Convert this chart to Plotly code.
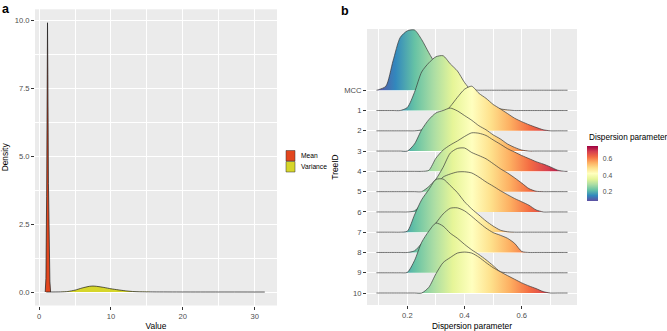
import plotly.graph_objects as go

W, H = 667, 331

# ---------------- Panel a data ----------------
mean_x = [0.85, 0.95, 1.05, 1.12, 1.17, 1.22, 1.30, 1.40, 1.50, 1.60]
mean_y = [0.0, 0.5, 3.5, 8.0, 9.9, 8.0, 4.0, 1.5, 0.4, 0.0]

var_x = [1.0, 3.0, 4.0, 5.0, 6.0, 7.0, 7.5, 8.0, 9.0, 10.0, 11.0, 12.0, 13.0, 14.0, 16.0, 20.0, 25.0, 31.4]
var_y = [0.0, 0.005, 0.02, 0.07, 0.15, 0.21, 0.22, 0.21, 0.17, 0.12, 0.08, 0.045, 0.02, 0.01, 0.004, 0.001, 0.0005, 0.0]

a_xticks = [0, 10, 20, 30]
a_yticks = [0, 2.5, 5, 7.5, 10]
a_yticklabels = ["0.0", "2.5", "5.0", "7.5", "10.0"]
a_series = ["Mean", "Variance"]

# ---------------- Panel b data ----------------
tree_ids = ["MCC", "1", "2", "3", "4", "5", "6", "7", "8", "9", "10"]
x_grid = [0.092, 0.100, 0.125, 0.150, 0.175, 0.200, 0.225, 0.250, 0.275, 0.300,
          0.325, 0.350, 0.375, 0.400, 0.425, 0.450, 0.475, 0.500, 0.525, 0.550,
          0.575, 0.600, 0.625, 0.650, 0.675, 0.700, 0.725, 0.750, 0.760]

h_MCC = [0, 0.03, 0.2, 1.45, 2.6, 2.93, 2.97, 2.5, 1.85, 1.25, 0.7, 0.35, 0.15, 0.06, 0.02, 0, 0, 0, 0, 0, 0, 0, 0, 0, 0, 0, 0, 0, 0]
h_1 = [0, 0, 0, 0, 0, 0.15, 0.9, 1.9, 2.35, 2.65, 2.7, 2.3, 1.95, 1.38, 0.95, 0.6, 0.35, 0.18, 0.08, 0.03, 0, 0, 0, 0, 0, 0, 0, 0, 0]
h_2 = [0, 0, 0, 0, 0, 0, 0, 0.05, 0.3, 0.6, 0.85, 1.2, 1.65, 2.05, 2.2, 1.85, 1.6, 1.3, 1.08, 0.85, 0.62, 0.45, 0.3, 0.17, 0.05, 0, 0, 0, 0]
h_3 = [0, 0, 0, 0, 0, 0, 0.35, 1.05, 1.55, 1.88, 2.0, 2.12, 1.98, 1.75, 1.52, 1.25, 1.05, 0.8, 0.6, 0.35, 0.18, 0.05, 0, 0, 0, 0, 0, 0, 0]
h_4 = [0, 0, 0, 0, 0, 0, 0, 0, 0.05, 0.65, 1.05, 1.3, 1.5, 1.72, 1.9, 1.88, 1.77, 1.55, 1.34, 1.12, 0.95, 0.78, 0.63, 0.48, 0.36, 0.22, 0.06, 0, 0]
h_5 = [0, 0, 0, 0, 0, 0, 0, 0, 0.25, 0.62, 1.2, 1.9, 2.13, 2.15, 1.93, 1.78, 1.62, 1.38, 1.13, 0.92, 0.68, 0.42, 0.15, 0.02, 0, 0, 0, 0, 0]
h_6 = [0, 0, 0, 0, 0, 0, 0.05, 0.4, 0.82, 1.33, 1.72, 1.87, 1.97, 1.98, 1.92, 1.72, 1.48, 1.27, 1.05, 0.85, 0.66, 0.5, 0.33, 0.1, 0, 0, 0, 0, 0]
h_7 = [0, 0, 0, 0, 0, 0.05, 0.85, 1.6, 2.1, 2.6, 2.62, 2.3, 1.95, 1.5, 1.15, 0.85, 0.55, 0.3, 0.1, 0.02, 0, 0, 0, 0, 0, 0, 0, 0, 0]
h_8 = [0, 0, 0, 0, 0, 0, 0.08, 0.45, 0.95, 1.45, 1.9, 2.18, 2.2, 2.05, 1.78, 1.48, 1.2, 0.98, 0.85, 0.7, 0.45, 0.05, 0, 0, 0, 0, 0, 0, 0]
h_9 = [0, 0, 0, 0, 0, 0.02, 0.6, 1.5, 2.05, 2.45, 2.3, 1.95, 1.7, 1.4, 1.13, 0.9, 0.64, 0.35, 0.05, 0, 0, 0, 0, 0, 0, 0, 0, 0, 0]
h_10 = [0, 0, 0, 0, 0, 0, 0, 0, 0.28, 0.95, 1.5, 1.75, 1.97, 2.02, 1.97, 1.77, 1.5, 1.25, 1.05, 0.86, 0.68, 0.5, 0.35, 0.22, 0.07, 0, 0, 0, 0]
ridge_heights = [h_MCC, h_1, h_2, h_3, h_4, h_5, h_6, h_7, h_8, h_9, h_10]

b_xticks = [0.2, 0.4, 0.6]
cbar_ticks = [0.2, 0.4, 0.6]

# ---------------- styling ----------------
FONT = "Liberation Sans, Arial, Helvetica, sans-serif"
TXT = "#4D4D4D"
BG = "#EBEBEB"
MEAN_COL = "#E2461E"
VAR_COL = "#D6D62A"
OUTLINE = "#1a1a1a"
RIDGE_LINE = "#3a3a3a"
spectral_r = ["#5E4FA2", "#3288BD", "#66C2A5", "#ABDDA4", "#E6F598", "#FFFFBF",
              "#FEE08B", "#FDAE61", "#F46D43", "#D53E4F", "#9E0142"]
cscale = [[i / (len(spectral_r) - 1), c] for i, c in enumerate(spectral_r)]


def px_x(p):
    return p / W


def px_y(p):
    return 1 - p / H


fig = go.Figure()

# Panel a
fig.add_trace(go.Scatter(x=mean_x, y=mean_y, mode="lines", fill="tozeroy", fillcolor=MEAN_COL,
                         line=dict(color=OUTLINE, width=0.7), name=a_series[0],
                         showlegend=False, xaxis="x", yaxis="y", hoverinfo="skip"))
fig.add_trace(go.Scatter(x=var_x, y=var_y, mode="lines", fill="tozeroy", fillcolor=VAR_COL,
                         line=dict(color=OUTLINE, width=0.7, shape="spline", smoothing=0.6),
                         name=a_series[1], showlegend=False, xaxis="x", yaxis="y", hoverinfo="skip"))

# Panel b ridges (top row first so lower rows are drawn over it)
n = len(tree_ids)
for i, (tid, h) in enumerate(zip(tree_ids, ridge_heights)):
    base = n - 1 - i
    ytop = [base + v for v in h]
    fig.add_trace(go.Scatter(
        x=x_grid, y=ytop, mode="lines", fill="toself",
        fillgradient=dict(type="horizontal", colorscale=cscale, start=x_grid[0], stop=x_grid[-1]),
        line=dict(width=0, shape="spline", smoothing=0.7),
        showlegend=False, xaxis="x2", yaxis="y2", hoverinfo="skip"))
    fig.add_trace(go.Scatter(
        x=x_grid, y=ytop, mode="lines",
        line=dict(color=RIDGE_LINE, width=0.7, shape="spline", smoothing=0.7),
        showlegend=False, xaxis="x2", yaxis="y2", hoverinfo="skip", name=tid))

# dummy trace for the colour bar
fig.add_trace(go.Scatter(
    x=[x_grid[0], x_grid[-1]], y=[0, 0], mode="markers",
    marker=dict(size=0.1, opacity=0, color=[x_grid[0], x_grid[-1]], colorscale=cscale,
                cmin=x_grid[0], cmax=x_grid[-1], showscale=True,
                colorbar=dict(
                    x=px_x(587), xanchor="left", y=px_y(173), yanchor="middle",
                    len=55, lenmode="pixels", thickness=11, thicknessmode="pixels",
                    outlinewidth=0, xpad=0, ypad=0,
                    tickvals=cbar_ticks, ticktext=[f"{t:.1f}" for t in cbar_ticks],
                    ticks="outside", ticklen=4, tickcolor="rgba(0,0,0,0)",
                    tickfont=dict(family=FONT, size=6.8, color=TXT))),
    showlegend=False, xaxis="x2", yaxis="y2", hoverinfo="skip"))

axis_common = dict(showgrid=True, gridcolor="white", gridwidth=0.9, zeroline=False,
                   showline=False, ticks="outside", ticklen=3, tickwidth=0.6,
                   tickcolor="#333333", tickfont=dict(family=FONT, size=7.6, color=TXT),
                   automargin=False)

fig.update_layout(
    width=W, height=H, margin=dict(l=0, r=0, t=0, b=0, autoexpand=False),
    paper_bgcolor="white", plot_bgcolor=BG, showlegend=False,
    font=dict(family=FONT, color="#000000"),
    xaxis=dict(domain=[px_x(35), px_x(277)], range=[-0.57, 33.1], tickvals=a_xticks,
               minor=dict(tickvals=[5, 15, 25], showgrid=True, gridcolor="white", gridwidth=0.45, ticks=""),
               title=dict(text="Value", font=dict(family=FONT, size=8.4), standoff=3),
               anchor="y", **axis_common),
    yaxis=dict(domain=[px_y(305.5), px_y(9.3)], range=[-0.495, 10.395], tickvals=a_yticks,
               ticktext=a_yticklabels,
               minor=dict(tickvals=[1.25, 3.75, 6.25, 8.75], showgrid=True, gridcolor="white",
                          gridwidth=0.45, ticks=""),
               title=dict(text="Density", font=dict(family=FONT, size=8.4), standoff=4),
               anchor="x", **axis_common),
    xaxis2=dict(domain=[px_x(367), px_x(577)], range=[0.059, 0.793], tickvals=b_xticks,
                ticktext=[f"{t:.1f}" for t in b_xticks],
                minor=dict(tickvals=[0.1, 0.3, 0.5, 0.7], showgrid=True, gridcolor="white",
                           gridwidth=0.45, ticks=""),
                title=dict(text="Dispersion parameter", font=dict(family=FONT, size=8.4), standoff=3),
                anchor="y2", **axis_common),
    yaxis2=dict(domain=[px_y(305), px_y(29)], range=[-0.59, 13.02],
                tickvals=list(range(n)), ticktext=tree_ids[::-1],
                title=dict(text="TreeID", font=dict(family=FONT, size=8.4), standoff=4),
                anchor="x2", **axis_common),
)

# colour bar title
fig.add_annotation(text="Dispersion parameter", xref="paper", yref="paper", x=px_x(587), y=px_y(137),
                   xanchor="left", yanchor="middle", showarrow=False,
                   font=dict(family=FONT, size=8.2, color="#000000"))

# legend for panel a
for label, col, y0, y1 in [(a_series[0], MEAN_COL, 150.5, 161), (a_series[1], VAR_COL, 161.5, 172)]:
    fig.add_shape(type="rect", xref="paper", yref="paper", x0=px_x(286), x1=px_x(295),
                  y0=px_y(y1), y1=px_y(y0), fillcolor=col, line=dict(color="#333333", width=0.5))
    fig.add_annotation(text=label, xref="paper", yref="paper", x=px_x(299), y=px_y((y0 + y1) / 2),
                       xanchor="left", yanchor="middle", showarrow=False,
                       font=dict(family=FONT, size=6.7, color="#000000"))

# panel letters
fig.add_annotation(text="<b>a</b>", xref="paper", yref="paper", x=px_x(0), y=px_y(0),
                   xanchor="left", yanchor="top", showarrow=False,
                   font=dict(family=FONT, size=12.5, color="#000000"))
fig.add_annotation(text="<b>b</b>", xref="paper", yref="paper", x=px_x(339), y=px_y(2),
                   xanchor="left", yanchor="top", showarrow=False,
                   font=dict(family=FONT, size=12.5, color="#000000"))

fig.write_html("out.html", config={"displayModeBar": False},
               post_script="document.body.style.margin='0';document.body.style.padding='0';")
